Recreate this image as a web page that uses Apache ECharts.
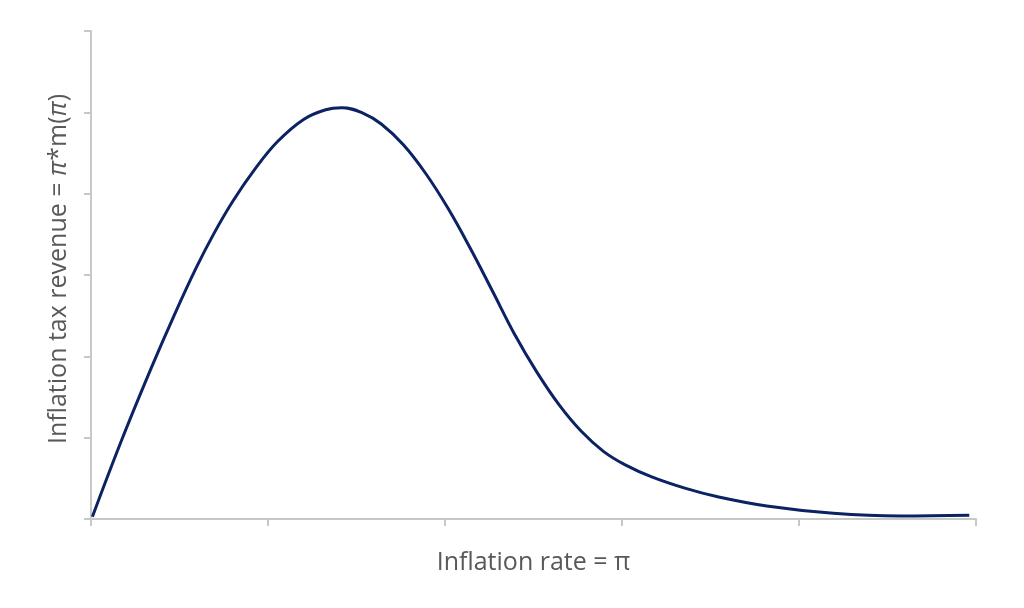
<!DOCTYPE html>
<html>
<head>
<meta charset="utf-8">
<script src="https://cdn.jsdelivr.net/npm/echarts@6/dist/echarts.min.js"></script>
<style>html,body{margin:0;padding:0;background:#fff;}#c{width:1024px;height:608px;}</style>
</head>
<body>
<div id="c"></div>
<script>
// Inflation rate (x, arbitrary units) and inflation tax revenue (y, arbitrary units)
const inflationRate = [0.008, 0.175, 0.343, 0.468, 0.594, 0.698, 0.803, 0.929, 1.054, 1.201, 1.326, 1.416, 1.536, 1.640, 1.766, 1.891, 2.017, 2.142, 2.268, 2.393, 2.519, 2.645, 2.770, 2.895, 3.021, 3.168, 3.360, 3.535, 3.818, 4.194, 4.571, 4.962];
const taxRevenue   = [0.028, 0.980, 1.870, 2.495, 3.087, 3.524, 3.913, 4.310, 4.641, 4.913, 5.032, 5.057, 4.991, 4.856, 4.598, 4.248, 3.820, 3.332, 2.803, 2.272, 1.806, 1.403, 1.078, 0.832, 0.662, 0.518, 0.376, 0.276, 0.160, 0.070, 0.036, 0.045];
const xTitle = 'Inflation rate = π';
const yTitle = 'Inflation tax revenue = {i|π}*m({i|π})';

const chart = echarts.init(document.getElementById('c'), null, {renderer: 'canvas'});
const axisColor = '#c8c8c8';
chart.setOption({
  animation: false,
  backgroundColor: '#fff',
  grid: {left: 91, right: 48, top: 31, bottom: 89, containLabel: false},
  xAxis: {
    type: 'value', min: 0, max: 5, interval: 1,
    name: xTitle, nameLocation: 'middle', nameGap: 31,
    nameTextStyle: {color: '#595959', fontSize: 25, fontFamily: 'Open Sans'},
    axisLine: {show: true, lineStyle: {color: axisColor, width: 2}},
    axisTick: {show: true, length: 7, lineStyle: {color: axisColor, width: 2}},
    axisLabel: {show: false},
    splitLine: {show: false}
  },
  yAxis: {
    type: 'value', min: 0, max: 6, interval: 1,
    name: yTitle, nameLocation: 'middle', nameGap: 20, nameRotate: 90,
    nameTextStyle: {
      color: '#595959', fontSize: 25, fontFamily: 'Open Sans', padding: [0, 0, 0, 12],
      rich: {i: {color: '#595959', fontSize: 25, fontFamily: 'Open Sans', fontStyle: 'italic'}}
    },
    axisLine: {show: true, lineStyle: {color: axisColor, width: 2}},
    axisTick: {show: true, length: 7, lineStyle: {color: axisColor, width: 2}},
    axisLabel: {show: false},
    splitLine: {show: false}
  },
  series: [{
    type: 'line',
    data: inflationRate.map((x, i) => [x, taxRevenue[i]]),
    smooth: 0.4,
    symbol: 'none',
    lineStyle: {color: '#0b2263', width: 3}
  }]
});
</script>
</body>
</html>
